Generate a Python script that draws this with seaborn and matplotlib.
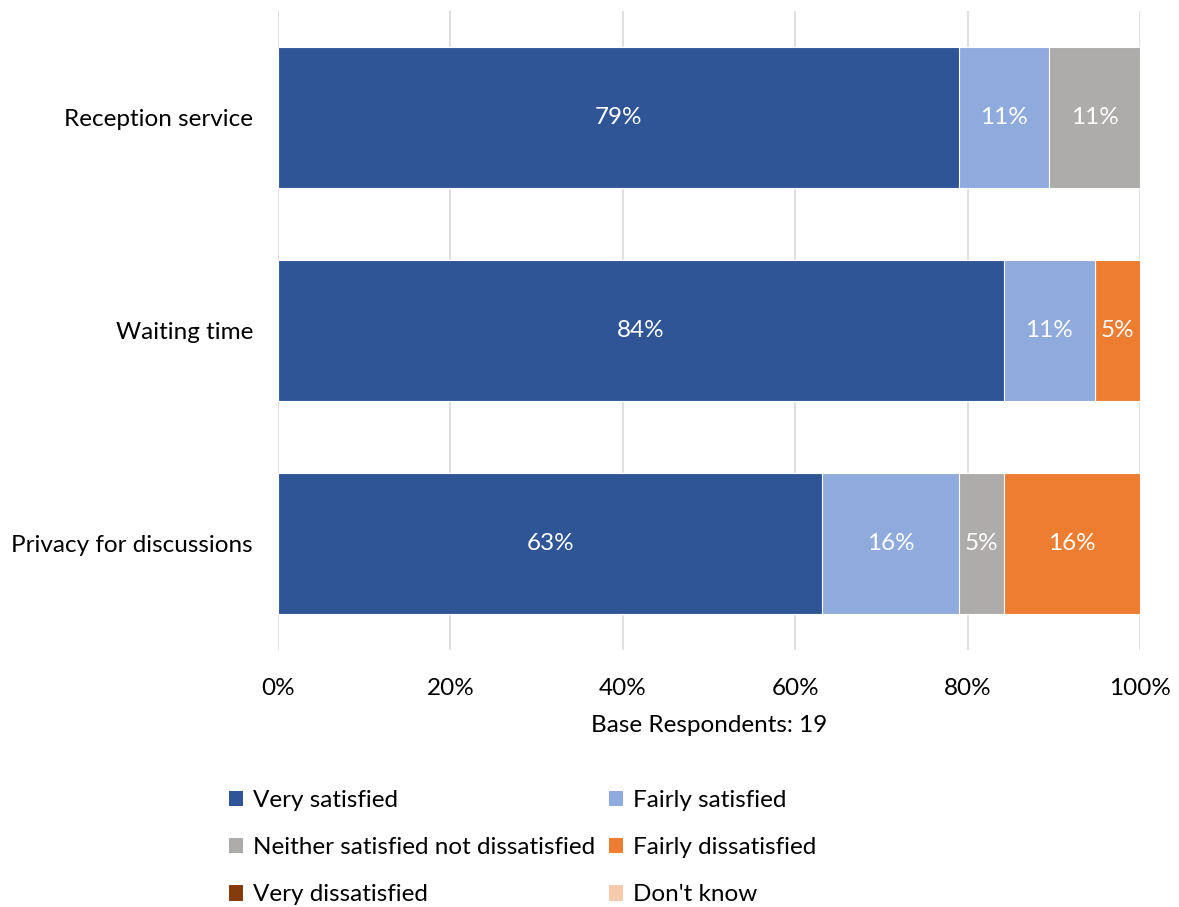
import matplotlib
matplotlib.use("Agg")
import matplotlib.pyplot as plt
from matplotlib.patches import Patch
import numpy as np
import pandas as pd
import seaborn as sns

# data (percent of 19 respondents)
items = ["Reception service", "Waiting time", "Privacy for discussions"]
very_satisfied = [78.95, 84.21, 63.16]
fairly_satisfied = [10.53, 10.53, 15.79]
neither = [10.53, 0.0, 5.26]
fairly_dissatisfied = [0.0, 5.26, 15.79]
very_dissatisfied = [0.0, 0.0, 0.0]
dont_know = [0.0, 0.0, 0.0]

levels = ["Very satisfied", "Fairly satisfied", "Neither satisfied not dissatisfied",
          "Fairly dissatisfied", "Very dissatisfied", "Don't know"]
colors = ["#2F5597", "#8FAADC", "#AEABAB", "#ED7D31", "#843C0C", "#F8CBAD"]

sns.set_theme(style="white")
plt.rcParams["font.family"] = ["Lato", "DejaVu Sans"]
FS = 17.5

df = pd.DataFrame({"item": items})
series = [very_satisfied, fairly_satisfied, neither, fairly_dissatisfied,
          very_dissatisfied, dont_know]
for lvl, vals in zip(levels, series):
    df[lvl] = vals
cum = df[levels].cumsum(axis=1)
cum["item"] = items

fig = plt.figure(figsize=(11.79, 9.07), dpi=100)
ax = fig.add_axes([278 / 1179, 1 - 650 / 907, 862 / 1179, 639 / 907])

# stacked via overlaying cumulative bars, largest first
for lvl, col in reversed(list(zip(levels, colors))):
    sns.barplot(data=cum, x=lvl, y="item", color=col, orient="h", ax=ax,
                width=0.66, saturation=1, edgecolor="white", linewidth=0.8,
                zorder=2)

# value labels
for i, item in enumerate(items):
    left = 0
    for lvl in levels:
        v = df.loc[i, lvl]
        if v > 0:
            ax.text(left + v / 2, i, f"{v:.0f}%", ha="center", va="center",
                    color="white", fontsize=FS)
        left += v

ax.set_xlim(0, 100)
ax.set_xticks(np.arange(0, 101, 20))
ax.set_xticklabels([f"{t}%" for t in range(0, 101, 20)], fontsize=FS)
ax.tick_params(axis="x", length=0, pad=20, colors="black")
ax.tick_params(axis="y", length=0, pad=18, labelsize=FS, colors="black")
ax.xaxis.grid(True, color="#D9D9D9", linewidth=1.2, zorder=0)
ax.set_axisbelow(True)
for s in ax.spines.values():
    s.set_visible(False)
ax.set_ylabel("")
ax.set_xlabel("Base Respondents: 19", fontsize=FS, labelpad=12, color="black")

# legend ordered row-wise
order = [0, 2, 4, 1, 3, 5]
handles = [Patch(facecolor=colors[k], edgecolor="none") for k in order]
labels = [levels[k] for k in order]
fig.legend(handles, labels, ncol=2, loc="upper left",
           bbox_to_anchor=(207 / 1179, 1 - 768 / 907), frameon=False,
           fontsize=FS, handlelength=0.6, handleheight=0.6,
           handletextpad=0.4, columnspacing=0.55, labelspacing=1.08,
           labelcolor="black")

fig.savefig("out.png", dpi=100)
